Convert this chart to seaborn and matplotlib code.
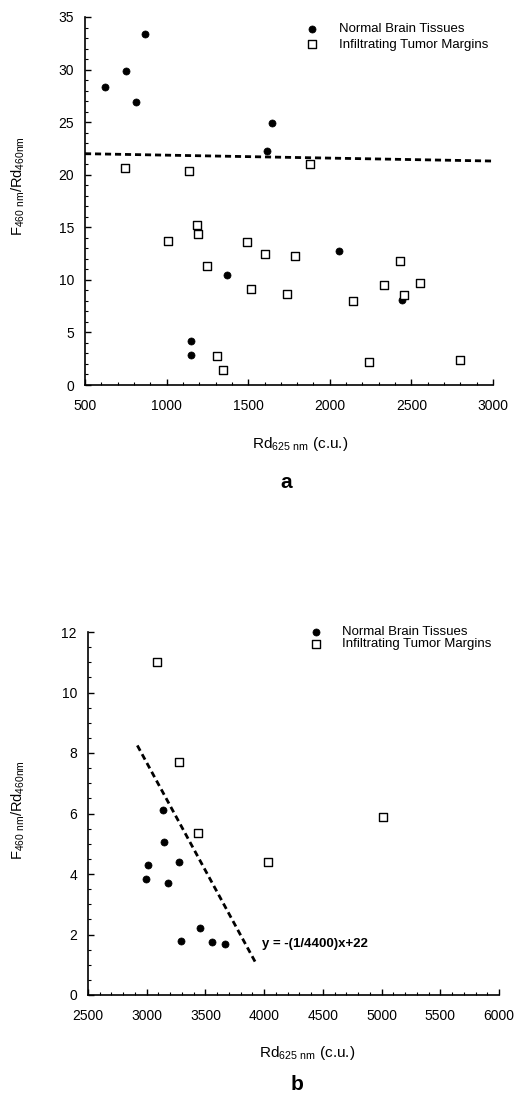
import numpy as np
import pandas as pd
import matplotlib
matplotlib.use('Agg')
import matplotlib.pyplot as plt
from matplotlib.ticker import MultipleLocator
import seaborn as sns

sns.set_style('ticks')
plt.rcParams['font.family'] = ['Liberation Sans', 'DejaVu Sans']
plt.rcParams['mathtext.default'] = 'regular'
for k in ['text.color', 'axes.labelcolor', 'xtick.color', 'ytick.color', 'axes.edgecolor']:
    plt.rcParams[k] = 'black'

# panel a data
normal_a_x = [620, 750, 810, 865, 1150, 1148, 1370, 1615, 1645, 2055, 2440]
normal_a_y = [28.3, 29.9, 26.9, 33.4, 4.2, 2.9, 10.5, 22.3, 24.9, 12.7, 8.1]
tumor_a_x = [745, 1010, 1140, 1188, 1193, 1250, 1310, 1345, 1495, 1515, 1600,
             1735, 1785, 1880, 2140, 2240, 2330, 2430, 2455, 2550, 2800]
tumor_a_y = [20.6, 13.7, 20.4, 15.2, 14.4, 11.3, 2.8, 1.4, 13.6, 9.1, 12.5,
             8.7, 12.3, 21.0, 8.0, 2.2, 9.5, 11.8, 8.6, 9.7, 2.4]
line_a_x = [500, 3000]
line_a_y = [22.0, 21.3]

# panel b data
normal_b_x = [2990, 3010, 3140, 3150, 3180, 3275, 3290, 3450, 3560, 3670]
normal_b_y = [3.85, 4.3, 6.1, 5.05, 3.7, 4.4, 1.8, 2.2, 1.75, 1.7]
tumor_b_x = [3090, 3275, 3440, 4035, 5010]
tumor_b_y = [11.0, 7.7, 5.35, 4.4, 5.9]
line_b_x = [2920, 3930]
line_b_y = [8.25, 1.05]
eq_text = 'y = -(1/4400)x+22'

xlab = r'Rd$_{625\ nm}$ (c.u.)'
ylab = r'F$_{460\ nm}$/Rd$_{460nm}$'

W, H = 514, 1096
fig = plt.figure(figsize=(W / 100, H / 100), dpi=100)
ax1 = fig.add_axes([85 / W, 1 - 385 / H, 408 / W, 368 / H])
ax2 = fig.add_axes([88 / W, 1 - 995 / H, 411 / W, 363 / H])


def draw(ax, nx, ny, tx, ty, lx, ly):
    sns.scatterplot(x=nx, y=ny, ax=ax, marker='o', color='black', edgecolor='black',
                    s=26, linewidth=0.5, label='Normal Brain Tissues', zorder=3)
    sns.scatterplot(x=tx, y=ty, ax=ax, marker='s', color='white', edgecolor='black',
                    s=34, linewidth=1.0, label='Infiltrating Tumor Margins', zorder=3)
    sns.lineplot(x=lx, y=ly, ax=ax, color='black', lw=2.0, dashes=False,
                 legend=False, zorder=2).lines[-1].set_dashes((2.2, 1.4))
    sns.despine(ax=ax)
    for s in ['left', 'bottom']:
        ax.spines[s].set_linewidth(1.2)
    ax.tick_params(which='major', direction='in', length=4, width=1.0, labelsize=10)
    ax.tick_params(which='minor', direction='in', length=2.2, width=0.8)
    ax.tick_params(axis='x', pad=10)
    ax.tick_params(axis='y', pad=8)
    ax.set_xlabel(xlab, fontsize=11)
    ax.set_ylabel(ylab, fontsize=10.5)


draw(ax1, normal_a_x, normal_a_y, tumor_a_x, tumor_a_y, line_a_x, line_a_y)
ax1.set_xlim(500, 3000)
ax1.set_ylim(0, 35)
ax1.xaxis.set_major_locator(MultipleLocator(500))
ax1.xaxis.set_minor_locator(MultipleLocator(100))
ax1.yaxis.set_major_locator(MultipleLocator(5))
ax1.yaxis.set_minor_locator(MultipleLocator(1))
ax1.xaxis.set_label_coords((300 - 85) / 408, -(435 - 385) / 368)
ax1.yaxis.set_label_coords((27 - 85) / 408, 0.54)
ax1.legend(loc='upper left', bbox_to_anchor=(305 / W, 1 - 23 / H), bbox_transform=fig.transFigure,
           frameon=False, borderpad=0, borderaxespad=0, handlelength=1.0,
           handletextpad=1.6, labelspacing=0.25, fontsize=9.5)

draw(ax2, normal_b_x, normal_b_y, tumor_b_x, tumor_b_y, line_b_x, line_b_y)
ax2.set_xlim(2500, 6000)
ax2.set_ylim(0, 12)
ax2.xaxis.set_major_locator(MultipleLocator(500))
ax2.xaxis.set_minor_locator(MultipleLocator(100))
ax2.yaxis.set_major_locator(MultipleLocator(2))
ax2.yaxis.set_minor_locator(MultipleLocator(0.5))
ax2.xaxis.set_label_coords((307 - 88) / 411, -(1044 - 995) / 363)
ax2.yaxis.set_label_coords((27 - 88) / 411, 0.51)
ax2.legend(loc='upper left', bbox_to_anchor=(309 / W, 1 - 626 / H), bbox_transform=fig.transFigure,
           frameon=False, borderpad=0, borderaxespad=0, handlelength=1.0,
           handletextpad=1.5, labelspacing=0.0, fontsize=9.5)
ax2.text(3980, 1.7, eq_text, fontsize=9.5, fontweight='bold', va='center', ha='left')

fig.text(286 / W, 1 - 482 / H, 'a', ha='center', va='center', fontsize=15, fontweight='bold')
fig.text(297 / W, 1 - 1085 / H, 'b', ha='center', va='center', fontsize=15, fontweight='bold')

fig.savefig('out.png', dpi=100)
